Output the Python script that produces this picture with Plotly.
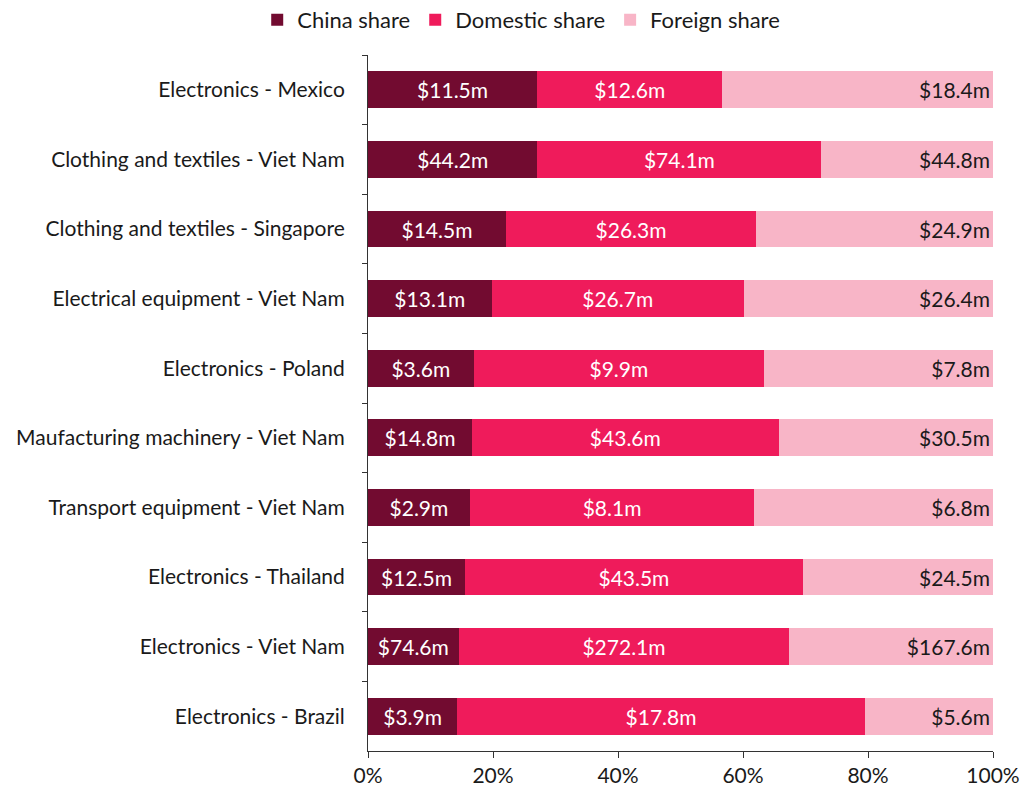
import plotly.graph_objects as go

categories = [
    "Electronics - Mexico",
    "Clothing and textiles - Viet Nam",
    "Clothing and textiles - Singapore",
    "Electrical equipment - Viet Nam",
    "Electronics - Poland",
    "Maufacturing machinery - Viet Nam",
    "Transport equipment - Viet Nam",
    "Electronics - Thailand",
    "Electronics - Viet Nam",
    "Electronics - Brazil",
]
china_share = [11.5, 44.2, 14.5, 13.1, 3.6, 14.8, 2.9, 12.5, 74.6, 3.9]
domestic_share = [12.6, 74.1, 26.3, 26.7, 9.9, 43.6, 8.1, 43.5, 272.1, 17.8]
foreign_share = [18.4, 44.8, 24.9, 26.4, 7.8, 30.5, 6.8, 24.5, 167.6, 5.6]

x_ticks = [0, 20, 40, 60, 80, 100]

FONT = "Lato"
FS = 21
series = [
    ("China share", china_share, "#720b30", "white", "middle"),
    ("Domestic share", domestic_share, "#ef1b5b", "white", "middle"),
    ("Foreign share", foreign_share, "#f8b5c7", "#1a1a1a", "end"),
]

fig = go.Figure()
for name, vals, color, tcolor, anchor in series:
    fig.add_trace(go.Bar(
        name=name,
        y=categories,
        x=vals,
        orientation="h",
        marker=dict(color=color, line=dict(width=0)),
        text=[f"${v:.1f}m" for v in vals],
        textposition="inside",
        insidetextanchor=anchor,
        textangle=0,
        textfont=dict(family=FONT, size=FS, color=tcolor),
        hoverinfo="skip",
    ))

fig.update_layout(
    barmode="stack",
    barnorm="percent",
    bargap=0.47,
    width=1024,
    height=794,
    paper_bgcolor="white",
    plot_bgcolor="white",
    margin=dict(l=368, r=31, t=55, b=43, autoexpand=False),
    font=dict(family=FONT, size=FS, color="#1a1a1a"),
    legend=dict(
        orientation="h",
        xref="container", yref="container",
        x=0.509, y=0.975, xanchor="center", yanchor="middle",
        font=dict(family=FONT, size=22, color="#1a1a1a"),
        traceorder="normal",
        itemwidth=30,
    ),
    showlegend=True,
)
fig.update_xaxes(
    range=[0, 100],
    tickvals=x_ticks,
    ticktext=[f"{t}%" for t in x_ticks],
    showgrid=False,
    zeroline=False,
    showline=True,
    linecolor="#333333",
    linewidth=1,
    ticks="outside",
    ticklen=6,
    tickcolor="#333333",
    automargin=False,
    tickfont=dict(family=FONT, size=FS, color="#1a1a1a"),
)
fig.update_yaxes(
    categoryorder="array",
    categoryarray=categories,
    autorange="reversed",
    showgrid=False,
    showline=True,
    linecolor="#333333",
    linewidth=1,
    ticks="outside",
    tickson="boundaries",
    ticklen=5,
    tickcolor="#333333",
    ticklabelstandoff=18,
    automargin=False,
    tickfont=dict(family=FONT, size=FS, color="#1a1a1a"),
)

fig.write_html(
    "out.html",
    config={"displayModeBar": False},
    post_script="document.body.style.margin='0';document.body.style.overflow='hidden';",
)
